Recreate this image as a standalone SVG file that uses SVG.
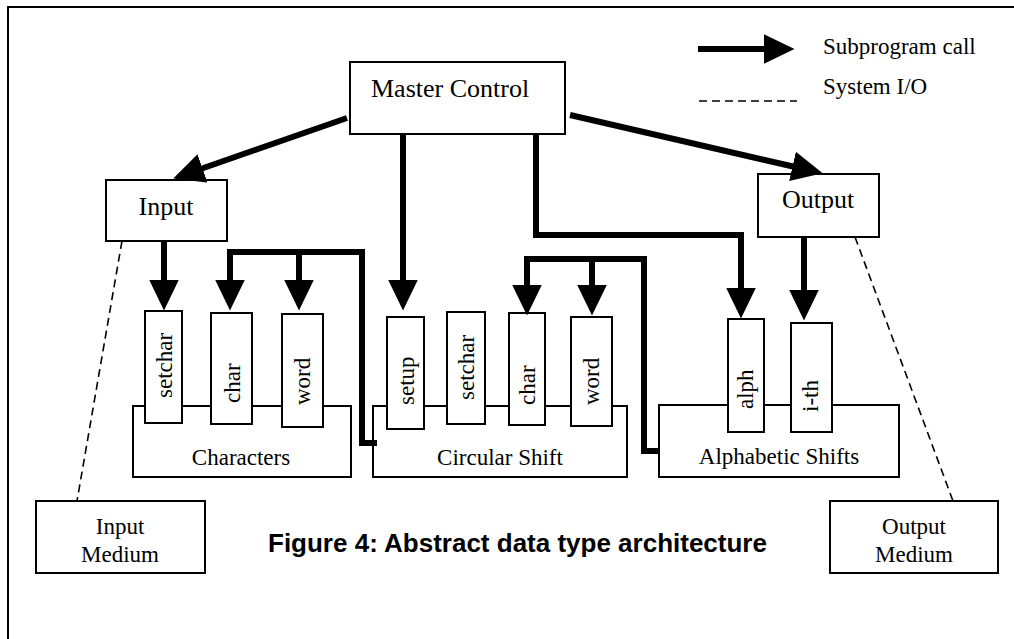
<svg xmlns="http://www.w3.org/2000/svg" width="1014" height="639" viewBox="0 0 1014 639">
  <style>
    .box { fill: #fff; stroke: #000; stroke-width: 2; }
    .lbl { font-family: "Liberation Serif", "Times New Roman", serif; fill: #000; }
    .big { font-size: 26px; }
    .mid { font-size: 23px; }
    .call { fill: none; stroke: #000; stroke-width: 6; stroke-linejoin: miter; }
    .io { fill: none; stroke: #000; stroke-width: 1.6; stroke-dasharray: 8 5; }
    .cap { font-family: "Liberation Sans", Arial, sans-serif; font-weight: bold; font-size: 26px; fill: #000; }
  </style>
  <defs>
    <marker id="head" viewBox="0 0 31 30" markerWidth="31" markerHeight="30" refX="0.5" refY="15" markerUnits="userSpaceOnUse" orient="auto">
      <path d="M0,0 L31,15 L0,30 Z" fill="#000"/>
    </marker>
  </defs>

  <rect width="1014" height="639" fill="#fff"/>
  <!-- frame -->
  <path d="M8,645 V7 H1020" fill="none" stroke="#000" stroke-width="2"/>

  <!-- legend -->
  <g id="legend">
    <line class="call" x1="698" y1="49" x2="764" y2="49" marker-end="url(#head)"/>
    <text class="lbl mid" x="823" y="54">Subprogram call</text>
    <line class="io" x1="699" y1="101" x2="797" y2="101"/>
    <text class="lbl mid" x="823" y="94">System I/O</text>
  </g>

  <!-- module boxes (drawn before the access routines that sit on them) -->
  <g id="characters">
    <rect class="box" x="133" y="406" width="218" height="71"/>
    <text class="lbl mid" x="241" y="465" text-anchor="middle">Characters</text>
  </g>
  <g id="circular-shift">
    <rect class="box" x="373" y="406" width="254" height="71"/>
    <text class="lbl mid" x="500" y="465" text-anchor="middle">Circular Shift</text>
  </g>
  <g id="alphabetic-shifts">
    <rect class="box" x="659" y="405" width="240" height="72"/>
    <text class="lbl mid" x="779" y="464" text-anchor="middle">Alphabetic Shifts</text>
  </g>

  <!-- access routines -->
  <g id="ch-setchar">
    <rect class="box" x="145" y="311" width="37" height="112"/>
    <text class="lbl mid" transform="translate(172,398) rotate(-90)">setchar</text>
  </g>
  <g id="ch-char">
    <rect class="box" x="211" y="313" width="41" height="111"/>
    <text class="lbl mid" transform="translate(240,403) rotate(-90)">char</text>
  </g>
  <g id="ch-word">
    <rect class="box" x="282" y="314" width="41" height="113"/>
    <text class="lbl mid" transform="translate(310,405) rotate(-90)">word</text>
  </g>
  <g id="cs-setup">
    <rect class="box" x="387" y="317" width="37" height="112"/>
    <text class="lbl mid" transform="translate(414,405) rotate(-90)">setup</text>
  </g>
  <g id="cs-setchar">
    <rect class="box" x="447" y="312" width="38" height="112"/>
    <text class="lbl mid" transform="translate(474,400) rotate(-90)">setchar</text>
  </g>
  <g id="cs-char">
    <rect class="box" x="509" y="313" width="36" height="112"/>
    <text class="lbl mid" transform="translate(535,405) rotate(-90)">char</text>
  </g>
  <g id="cs-word">
    <rect class="box" x="571" y="317" width="41" height="109"/>
    <text class="lbl mid" transform="translate(599,405) rotate(-90)">word</text>
  </g>
  <g id="as-alph">
    <rect class="box" x="728" y="319" width="36" height="113"/>
    <text class="lbl mid" transform="translate(753,409) rotate(-90)">alph</text>
  </g>
  <g id="as-ith">
    <rect class="box" x="791" y="323" width="41" height="109"/>
    <text class="lbl mid" transform="translate(818,412) rotate(-90)">i-th</text>
  </g>

  <!-- top level -->
  <g id="master-control">
    <rect class="box" x="350" y="62" width="215" height="72"/>
    <text class="lbl big" x="371" y="97">Master Control</text>
  </g>
  <g id="input">
    <rect class="box" x="106" y="180" width="121" height="61"/>
    <text class="lbl big" x="166" y="215" text-anchor="middle">Input</text>
  </g>
  <g id="output">
    <rect class="box" x="758" y="174" width="121" height="63"/>
    <text class="lbl big" x="818" y="208" text-anchor="middle">Output</text>
  </g>
  <g id="input-medium">
    <rect class="box" x="36" y="501" width="169" height="72"/>
    <text class="lbl mid" x="120" y="534" text-anchor="middle">Input</text>
    <text class="lbl mid" x="120" y="562" text-anchor="middle">Medium</text>
  </g>
  <g id="output-medium">
    <rect class="box" x="830" y="501" width="168" height="72"/>
    <text class="lbl mid" x="914" y="534" text-anchor="middle">Output</text>
    <text class="lbl mid" x="914" y="562" text-anchor="middle">Medium</text>
  </g>

  <!-- connectors -->
  <g id="connectors">
    <line class="call" x1="347" y1="118" x2="202" y2="168.5" marker-end="url(#head)"/>
    <line class="call" x1="570" y1="115" x2="793" y2="166.5" marker-end="url(#head)"/>
    <path class="call" d="M403,134 V280" marker-end="url(#head)"/>
    <path class="call" d="M536,134 V235 H741 V288" marker-end="url(#head)"/>
    <path class="call" d="M164,241 V280" marker-end="url(#head)"/>
    <path class="call" d="M804,237 V290" marker-end="url(#head)"/>
    <!-- Circular Shift calls char / word of Characters -->
    <path class="call" d="M377,443 H362 V252 H230 V280" marker-end="url(#head)"/>
    <path class="call" d="M299,252 V280" marker-end="url(#head)"/>
    <!-- Alphabetic Shifts calls char / word of Circular Shift -->
    <path class="call" d="M659,451 H644 V259 H527 V285" marker-end="url(#head)"/>
    <path class="call" d="M592,259 V285" marker-end="url(#head)"/>
    <!-- system I/O -->
    <line class="io" x1="122" y1="241" x2="77" y2="501"/>
    <line class="io" x1="855" y1="237" x2="953" y2="501"/>
  </g>

  <text class="cap" x="268" y="552">Figure 4: Abstract data type architecture</text>
</svg>
